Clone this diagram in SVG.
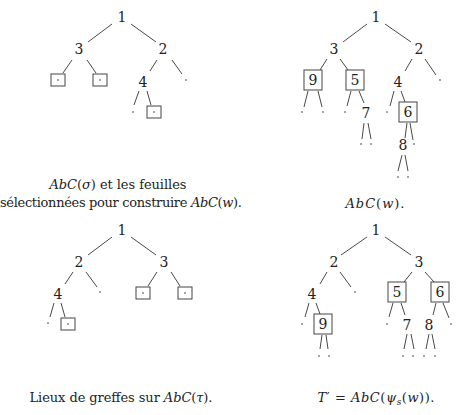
<svg xmlns="http://www.w3.org/2000/svg" width="456" height="415" viewBox="0 0 456 415">
<style>
.n{font-family:"DejaVu Serif","Liberation Serif",serif;font-size:14px;fill:#222;text-anchor:middle}
.c{font-family:"DejaVu Serif","Liberation Serif",serif;font-size:13px;fill:#222;text-anchor:middle}
.i{font-style:italic}
.b{fill:none;stroke:#444;stroke-width:1}
.d{fill:#333}
.e line{stroke:#333;stroke-width:0.9}
</style>
<rect width="456" height="415" fill="#fff"/>
<g class="e" id="connectors">
<line x1="112" y1="24" x2="88" y2="42"/><line x1="131" y1="24" x2="156" y2="42"/>
<line x1="72" y1="60" x2="63" y2="73"/><line x1="87" y1="60" x2="96" y2="73"/>
<line x1="157" y1="60" x2="150" y2="71"/><line x1="172" y1="60" x2="182" y2="74"/>
<line x1="139" y1="91" x2="134" y2="105"/><line x1="147" y1="91" x2="151" y2="105"/>
<line x1="367" y1="24" x2="343" y2="42"/><line x1="385" y1="24" x2="411" y2="42"/>
<line x1="327" y1="59" x2="320" y2="70"/><line x1="340" y1="59" x2="348" y2="70"/>
<line x1="412" y1="59" x2="405" y2="71"/><line x1="425" y1="59" x2="436" y2="75"/>
<line x1="308" y1="91" x2="304" y2="107"/><line x1="318" y1="91" x2="322" y2="107"/>
<line x1="351" y1="91" x2="347" y2="106"/><line x1="359" y1="91" x2="364" y2="103"/>
<line x1="394" y1="91" x2="390" y2="106"/><line x1="401" y1="91" x2="405" y2="102"/>
<line x1="364" y1="123" x2="362" y2="139"/><line x1="368" y1="123" x2="371" y2="139"/>
<line x1="407" y1="123" x2="405" y2="138"/><line x1="410" y1="123" x2="413" y2="140"/>
<line x1="402" y1="155" x2="398" y2="171"/><line x1="405" y1="155" x2="408" y2="171"/>
<line x1="112" y1="237" x2="88" y2="255"/><line x1="131" y1="237" x2="156" y2="255"/>
<line x1="73" y1="272" x2="65" y2="284"/><line x1="86" y1="272" x2="97" y2="287"/>
<line x1="157" y1="272" x2="148" y2="286"/><line x1="171" y1="272" x2="180" y2="286"/>
<line x1="54" y1="303" x2="50" y2="317"/><line x1="61" y1="303" x2="65" y2="317"/>
<line x1="367" y1="237" x2="341" y2="255"/><line x1="385" y1="237" x2="411" y2="255"/>
<line x1="327" y1="272" x2="320" y2="284"/><line x1="340" y1="272" x2="351" y2="287"/>
<line x1="412" y1="272" x2="404" y2="282"/><line x1="425" y1="272" x2="434" y2="282"/>
<line x1="309" y1="303" x2="305" y2="317"/><line x1="316" y1="303" x2="320" y2="314"/>
<line x1="322" y1="335" x2="320" y2="349"/><line x1="326" y1="335" x2="328" y2="349"/>
<line x1="393" y1="303" x2="389" y2="317"/><line x1="401" y1="303" x2="405" y2="315"/>
<line x1="407" y1="334" x2="404" y2="349"/><line x1="411" y1="334" x2="414" y2="349"/>
<line x1="436" y1="303" x2="433" y2="315"/><line x1="443" y1="303" x2="449" y2="318"/>
<line x1="429" y1="334" x2="426" y2="349"/><line x1="432" y1="334" x2="435" y2="349"/>
</g>
<g id="a1"><text class="n" x="122" y="22">1</text></g>
<g id="a3"><text class="n" x="79" y="54">3</text></g>
<g id="a2"><text class="n" x="163" y="54">2</text></g>
<g id="a_leaf1"><rect class="b" x="51" y="74" width="14" height="12"/><circle class="d" cx="58" cy="80" r="0.8"/></g>
<g id="a_leaf2"><rect class="b" x="93" y="74" width="14" height="12"/><circle class="d" cx="100" cy="80" r="0.8"/></g>
<g id="a4"><text class="n" x="143" y="87">4</text></g>
<g id="a_leaf3"><circle class="d" cx="186" cy="80" r="0.8"/></g>
<g id="a_leaf4"><circle class="d" cx="133" cy="112" r="0.8"/></g>
<g id="a_leaf5"><rect class="b" x="147" y="106" width="14" height="12"/><circle class="d" cx="154" cy="112" r="0.8"/></g>
<g id="b1"><text class="n" x="376" y="22">1</text></g>
<g id="b3"><text class="n" x="334" y="54">3</text></g>
<g id="b2"><text class="n" x="419" y="54">2</text></g>
<g id="b9"><rect class="b" x="304" y="70" width="18" height="20"/><text class="n" x="313" y="85">9</text></g>
<g id="b5"><rect class="b" x="346" y="70" width="18" height="20"/><text class="n" x="355" y="85">5</text></g>
<g id="b4"><text class="n" x="398" y="87">4</text></g>
<g id="b_leaf1"><circle class="d" cx="440" cy="80" r="0.8"/></g>
<g id="b_leaf2"><circle class="d" cx="302" cy="112" r="0.8"/></g>
<g id="b_leaf3"><circle class="d" cx="323" cy="112" r="0.8"/></g>
<g id="b_leaf4"><circle class="d" cx="345" cy="112" r="0.8"/></g>
<g id="b7"><text class="n" x="366" y="118">7</text></g>
<g id="b_leaf5"><circle class="d" cx="387" cy="112" r="0.8"/></g>
<g id="b6"><rect class="b" x="399" y="102" width="18" height="20"/><text class="n" x="408" y="117">6</text></g>
<g id="b_leaf6"><circle class="d" cx="361" cy="144" r="0.8"/></g>
<g id="b_leaf7"><circle class="d" cx="371" cy="144" r="0.8"/></g>
<g id="b8"><text class="n" x="403" y="150">8</text></g>
<g id="b_leaf8"><circle class="d" cx="414" cy="144" r="0.8"/></g>
<g id="b_leaf9"><circle class="d" cx="398" cy="177" r="0.8"/></g>
<g id="b_leaf10"><circle class="d" cx="408" cy="177" r="0.8"/></g>
<g id="c1"><text class="n" x="122" y="235">1</text></g>
<g id="c2"><text class="n" x="79" y="267">2</text></g>
<g id="c3"><text class="n" x="164" y="267">3</text></g>
<g id="c4"><text class="n" x="58" y="299">4</text></g>
<g id="c_leaf1"><circle class="d" cx="100" cy="292" r="0.8"/></g>
<g id="c_leaf2"><rect class="b" x="136" y="287" width="14" height="12"/><circle class="d" cx="143" cy="293" r="0.8"/></g>
<g id="c_leaf3"><rect class="b" x="178" y="287" width="14" height="12"/><circle class="d" cx="185" cy="293" r="0.8"/></g>
<g id="c_leaf4"><circle class="d" cx="48" cy="323" r="0.8"/></g>
<g id="c_leaf5"><rect class="b" x="61" y="318" width="14" height="12"/><circle class="d" cx="68" cy="324" r="0.8"/></g>
<g id="d1"><text class="n" x="376" y="235">1</text></g>
<g id="d2"><text class="n" x="334" y="267">2</text></g>
<g id="d3"><text class="n" x="419" y="267">3</text></g>
<g id="d4"><text class="n" x="312" y="299">4</text></g>
<g id="d_leaf1"><circle class="d" cx="355" cy="292" r="0.8"/></g>
<g id="d5"><rect class="b" x="388" y="282" width="18" height="20"/><text class="n" x="397" y="297">5</text></g>
<g id="d6"><rect class="b" x="431" y="282" width="18" height="20"/><text class="n" x="440" y="297">6</text></g>
<g id="d_leaf2"><circle class="d" cx="302" cy="324" r="0.8"/></g>
<g id="d9"><rect class="b" x="314" y="314" width="18" height="20"/><text class="n" x="323" y="329">9</text></g>
<g id="d_leaf3"><circle class="d" cx="387" cy="324" r="0.8"/></g>
<g id="d7"><text class="n" x="407" y="330">7</text></g>
<g id="d8"><text class="n" x="429" y="330">8</text></g>
<g id="d_leaf4"><circle class="d" cx="451" cy="324" r="0.8"/></g>
<g id="d_leaf5"><circle class="d" cx="319" cy="356" r="0.8"/></g>
<g id="d_leaf6"><circle class="d" cx="329" cy="356" r="0.8"/></g>
<g id="d_leaf7"><circle class="d" cx="403" cy="356" r="0.8"/></g>
<g id="d_leaf8"><circle class="d" cx="413" cy="356" r="0.8"/></g>
<g id="d_leaf9"><circle class="d" cx="424" cy="356" r="0.8"/></g>
<g id="d_leaf10"><circle class="d" cx="435" cy="356" r="0.8"/></g>
<g id="captions">
<text class="c" x="118" y="189" textLength="137"><tspan class="i">AbC</tspan>(<tspan class="i">σ</tspan>) et les feuilles</text>
<text class="c" x="121" y="207" textLength="242">sélectionnées pour construire <tspan class="i">AbC</tspan>(<tspan class="i">w</tspan>).</text>
<text class="c" x="375" y="208" textLength="59"><tspan class="i">AbC</tspan>(<tspan class="i">w</tspan>).</text>
<text class="c" x="121" y="402" textLength="183">Lieux de greffes sur <tspan class="i">AbC</tspan>(<tspan class="i">τ</tspan>).</text>
<text class="c" x="376" y="402" textLength="117"><tspan class="i">T</tspan>′ = <tspan class="i">AbC</tspan>(<tspan class="i">ψ</tspan><tspan class="i" font-size="9" dy="3">s</tspan><tspan dy="-3">(</tspan><tspan class="i">w</tspan>)).</text>
</g>
</svg>
